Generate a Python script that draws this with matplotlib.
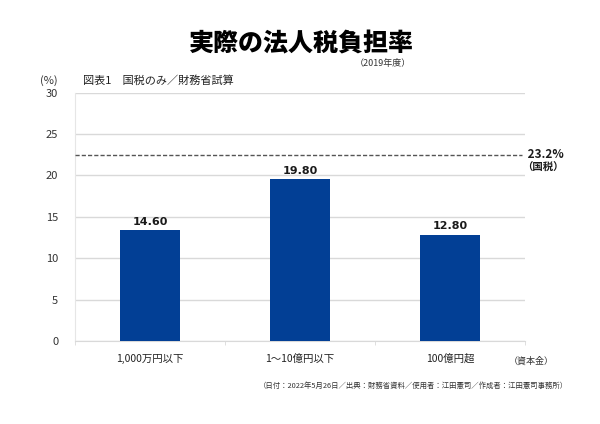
import matplotlib.pyplot as plt
import numpy as np

plt.rcParams['font.family'] = ['Noto Sans CJK JP', 'DejaVu Sans']

# data
categories = ['1,000万円以下', '1～10億円以下', '100億円超']
bar_heights = [13.4, 19.5, 12.85]          # as drawn in the picture
bar_labels = ['14.60', '19.80', '12.80']   # as printed over the bars
ref_line = 22.5
ref_label = '23.2%'
yticks = [0, 5, 10, 15, 20, 25, 30]

bar_color = '#023f95'
grid_color = '#d9d9d9'

fig = plt.figure(figsize=(6, 4.24), dpi=100)
ax = fig.add_axes([0.125, 0.1958, 0.75, 0.586])

x = np.arange(len(categories))
ax.bar(x, bar_heights, width=0.4, color=bar_color, zorder=3)
for xi, h, lab in zip(x, bar_heights, bar_labels):
    ax.text(xi, h + 0.4, lab, ha='center', va='bottom', fontsize=8,
            fontweight='bold', color='#1a1a1a', family='DejaVu Sans')

ax.set_xlim(-0.5, len(categories) - 0.5)
ax.set_ylim(0, 30)
ax.set_yticks(yticks)
ax.set_yticklabels([str(v) for v in yticks], fontsize=8, color='#333333')
ax.yaxis.grid(True, color=grid_color, linewidth=1, zorder=0)
ax.tick_params(axis='y', length=0, pad=12)

ax.set_xticks(x)
ax.set_xticklabels(categories, fontsize=7.5, color='#222222')
ax.tick_params(axis='x', length=0, pad=9)
ax.set_xticks(np.arange(len(categories) + 1) - 0.5, minor=True)
ax.tick_params(axis='x', which='minor', length=3, color=grid_color)

for side in ['top', 'right']:
    ax.spines[side].set_visible(False)
ax.spines['left'].set_color('#e6e6e6')
ax.spines['bottom'].set_color(grid_color)

ax.axhline(ref_line, xmin=0, xmax=0.993, color='#555555', linestyle=(0, (3, 1.5)),
           linewidth=1, zorder=4)
ax.text(1.0, ref_line, ' ' + ref_label, transform=ax.get_yaxis_transform(),
        ha='left', va='center', fontsize=8.5, fontweight='bold', color='#1a1a1a')
fig.text(0.905, 0.605, '（国税）', ha='center', va='center', fontsize=7.5,
         fontweight='bold', color='#1a1a1a')

fig.text(0.502, 0.898, '実際の法人税負担率', ha='center', va='center',
         fontsize=18, fontweight='heavy', color='#000000')
fig.text(0.638, 0.851, '（2019年度）', ha='center', va='center', fontsize=6.5,
         color='#333333')
fig.text(0.082, 0.81, '(%)', ha='center', va='center', fontsize=8, color='#333333')
fig.text(0.138, 0.81, '図表1　国税のみ／財務省試算', ha='left', va='center',
         fontsize=8, color='#222222')
fig.text(0.885, 0.149, '（資本金）', ha='center', va='center', fontsize=6.5,
         color='#333333')
fig.text(0.947, 0.089,
         '（日付：2022年5月26日／出典：財務省資料／使用者：江田憲司／作成者：江田憲司事務所）',
         ha='right', va='center', fontsize=5.3, color='#333333')

fig.savefig('out.png', dpi=100)
